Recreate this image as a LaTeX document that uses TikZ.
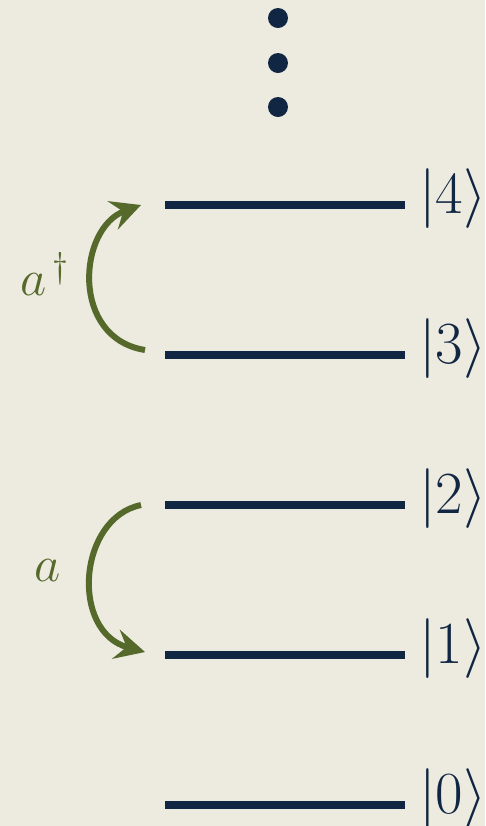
\RequirePackage{fix-cm}
\documentclass[tikz,border=0pt]{standalone}
\usepackage{tikz}
\usetikzlibrary{arrows.meta}
\definecolor{paper}{RGB}{237,234,224}
\definecolor{lvlnavy}{RGB}{16,38,66}
\definecolor{opgreen}{RGB}{84,105,42}

\begin{document}
\begin{tikzpicture}[
  x=0.02cm, y=-0.02cm,
  lvl/.style={draw=lvlnavy, line width=4pt},
  ket/.style={anchor=west, inner sep=0pt, text=lvlnavy, font=\fontsize{34}{40}\selectfont},
  op/.style={-{Stealth[length=6mm, width=6mm, inset=2.2mm]}, draw=opgreen, line width=3.4pt},
  oplbl/.style={text=opgreen, inner sep=0pt, font=\fontsize{29}{34}\selectfont},
  vdot/.style={circle, fill=lvlnavy, inner sep=0pt, minimum size=4mm},
]
\fill[paper] (0,0) rectangle (485,826);
\useasboundingbox (0,0) rectangle (485,826);

% ===================== energy levels =====================
\foreach \n/\y in {0/805,1/655,2/505,3/355,4/205} {
  \coordinate (l\n) at (165,\y);
  \draw[lvl] (l\n) -- (405,\y) node[ket, xshift=6pt, yshift=3.4pt] (k\n) {$|\n\rangle$};
}

% vertical dots above the top level
\node[vdot] (d1) at (278,18)  {};
\node[vdot] (d2) at (278,63)  {};
\node[vdot] (d3) at (278,107) {};

% ===================== ladder operators =====================
\coordinate (up0) at (145,350);
\coordinate (up1) at (141,205);
\draw[op] (up0) .. controls (70,338) and (78,228) .. (up1);
\node[oplbl] (adag) at (45,274) {$a^{\,\dagger}$};

\coordinate (dn0) at (141,505);
\coordinate (dn1) at (145,652);
\draw[op] (dn0) .. controls (78,518) and (70,632) .. (dn1);
\node[oplbl] (aop) at (48,571) {$a$};

\end{tikzpicture}
\end{document}
